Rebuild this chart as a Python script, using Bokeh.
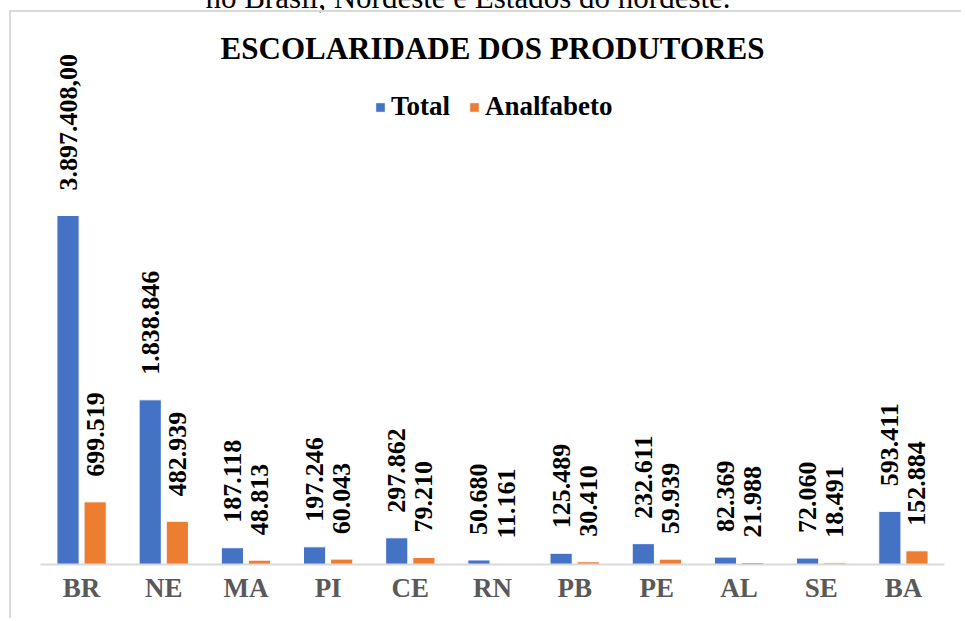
import math
from bokeh.plotting import figure
from bokeh.layouts import column
from bokeh.models import (ColumnDataSource, FactorRange, Range1d, LabelSet, Label, Legend,
                          LegendItem, Div)
from bokeh.transform import dodge
from bokeh.core.properties import value
from bokeh.embed import file_html
from bokeh.resources import INLINE

# ---- data ----
categories = ["BR", "NE", "MA", "PI", "CE", "RN", "PB", "PE", "AL", "SE", "BA"]
total = [3897408, 1838846, 187118, 197246, 297862, 50680, 125489, 232611, 82369, 72060, 593411]
analfabeto = [699519, 482939, 48813, 60043, 79210, 11161, 30410, 59939, 21988, 18491, 152884]
series_names = ["Total", "Analfabeto"]
chart_title = "ESCOLARIDADE DOS PRODUTORES"
caption = "no Brasil, Nordeste e Estados do nordeste."


def fmt(v):
    return f"{v:,}".replace(",", ".")


total_labels = [fmt(v) for v in total]
total_labels[0] = total_labels[0] + ",00"
analf_labels = [fmt(v) for v in analfabeto]

src = ColumnDataSource(dict(cat=categories, total=total, analf=analfabeto,
                            tl=total_labels, al=analf_labels))

FONT = "Liberation Serif"
BLUE = "#4472C4"
ORANGE = "#ED7D31"

FRAME_H = 552
Y_END = 6.164e6
PX = FRAME_H / Y_END  # pixels per unit


def y_at(px_above_base):
    return px_above_base / PX


p = figure(x_range=FactorRange(factors=categories, range_padding=0),
           y_range=Range1d(0, Y_END),
           width=952, height=608, output_backend="svg", toolbar_location=None,
           min_border_left=29, min_border_right=19, min_border_bottom=56, min_border_top=0,
           outline_line_color=None,
           styles={"border-left": "2px solid #d9d9d9", "border-top": "2px solid #d9d9d9",
                   "margin-left": "9px"})

r1 = p.vbar(x=dodge("cat", -0.165, range=p.x_range), top="total", width=0.27,
            source=src, fill_color=BLUE, line_color="white", line_width=1)
r2 = p.vbar(x=dodge("cat", 0.165, range=p.x_range), top="analf", width=0.27,
            source=src, fill_color=ORANGE, line_color="white", line_width=1)

for xo, yf, tf in [(-0.165, "total", "tl"), (0.165, "analf", "al")]:
    p.add_layout(LabelSet(x=dodge("cat", xo, range=p.x_range), y=yf, text=tf, source=src,
                          angle=math.pi / 2, text_align="left", text_baseline="middle",
                          y_offset=25, text_font=value(FONT), text_font_size="26px",
                          text_font_style="bold", text_color="#000000"))

# centre of the categorical frame (synthetic coordinate)
p.add_layout(Label(x=len(categories) / 2, y=y_at(516), text=chart_title,
                   text_align="center", text_baseline="alphabetic",
                   text_font=FONT, text_font_size="31px", text_font_style="bold",
                   text_color="#000000"))

legend = Legend(items=[LegendItem(label=series_names[0], renderers=[r1]),
                       LegendItem(label=series_names[1], renderers=[r2])],
                orientation="horizontal", location=(334, 442),
                glyph_width=12, glyph_height=12, label_standoff=5, spacing=18,
                padding=0, margin=0, border_line_color=None, background_fill_alpha=0,
                label_text_font=FONT, label_text_font_size="27px",
                label_text_font_style="bold", label_text_color="#000000")
p.add_layout(legend)

p.yaxis.visible = False
p.xgrid.grid_line_color = None
p.ygrid.grid_line_color = None
p.xaxis.axis_line_color = "#d9d9d9"
p.xaxis.axis_line_width = 2
p.xaxis.major_tick_line_color = None
p.xaxis.minor_tick_line_color = None
p.xaxis.major_label_standoff = 2
p.xaxis.major_label_text_font = FONT
p.xaxis.major_label_text_font_size = "27px"
p.xaxis.major_label_text_font_style = "bold"
p.xaxis.major_label_text_color = "#595959"

cap = Div(text=('<div style="width: 926px; font-family: \'Liberation Serif\'; font-size: 31px; '
                'line-height: 30px; text-align: center; color: #000; white-space: nowrap;">'
                + caption + '</div>'),
          width=926, height=22, styles={"margin-top": "-17px"})

layout = column(cap, p, spacing=0)

open("out.html", "w").write(file_html(layout, INLINE))
